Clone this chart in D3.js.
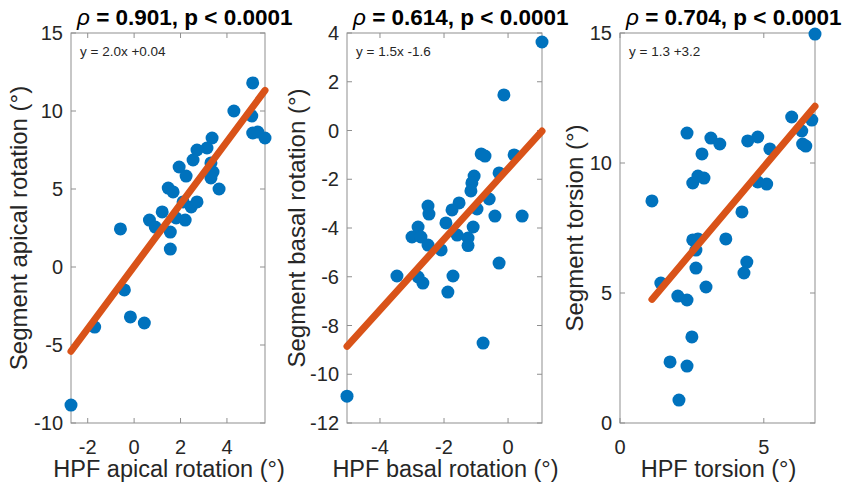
<!DOCTYPE html>
<html>
<head>
<meta charset="utf-8">
<script src="https://cdn.jsdelivr.net/npm/d3@7"></script>
<style>
  body { margin: 0; background: #fff; }
  svg { display: block; font-family: "Liberation Sans", Arial, sans-serif; }
</style>
</head>
<body>
<svg id="chart" width="851" height="486"></svg>
<script>
// values
const apicalX = [5.11, 4.30, 5.07, 5.11, 5.33, 5.64, 3.36, 3.14, 2.71, 2.54, 3.31, 3.40, 3.31, 1.94, 2.24, 3.66, 1.47, 1.68, 2.11, 2.46, 2.71, 1.21, 0.66, 0.91, 1.81, 2.20, 1.56, -0.59, 1.56, -0.42, -0.16, 0.44, -1.70, -2.72];
const apicalY = [11.8, 10.0, 9.68, 8.59, 8.65, 8.27, 8.27, 7.63, 7.5, 6.86, 6.67, 6.09, 5.71, 6.41, 5.83, 5.0, 5.06, 4.81, 4.17, 3.85, 4.17, 3.53, 3.01, 2.56, 3.14, 3.01, 2.24, 2.44, 1.15, -1.47, -3.2, -3.59, -3.85, -8.85];

const basalX = [1.06, -0.13, -0.84, -0.72, 0.19, -0.28, -1.06, -1.13, -1.16, -0.59, -1.53, -1.75, -0.97, -0.41, 0.44, -2.5, -2.47, -1.94, -1.09, -1.59, -2.81, -3.0, -2.72, -1.25, -2.5, -2.09, -1.25, -0.28, -3.47, -2.81, -2.66, -1.72, -1.88, -0.78, -5.03];
const basalY = [3.63, 1.46, -0.96, -1.05, -1.0, -1.74, -1.87, -2.15, -2.48, -2.81, -2.97, -3.26, -3.22, -3.51, -3.51, -3.1, -3.43, -3.79, -3.96, -4.29, -3.96, -4.37, -4.37, -4.41, -4.70, -4.9, -4.72, -5.44, -5.97, -6.01, -6.26, -5.97, -6.63, -8.72, -10.9];

const torsionX = [6.78, 5.97, 6.67, 6.32, 6.35, 6.46, 5.21, 4.79, 4.44, 3.16, 3.47, 2.33, 2.85, 2.53, 2.71, 2.92, 4.79, 5.10, 1.11, 4.24, 2.53, 2.71, 3.68, 2.64, 4.41, 4.31, 2.64, 1.42, 2.99, 2.01, 2.33, 2.5, 1.74, 2.33, 2.05];
const torsionY = [14.96, 11.77, 11.65, 11.23, 10.73, 10.65, 10.54, 11.0, 10.85, 10.96, 10.73, 11.15, 10.35, 9.23, 9.5, 9.42, 9.27, 9.19, 8.54, 8.12, 7.04, 7.08, 7.08, 6.65, 6.19, 5.77, 5.96, 5.38, 5.23, 4.88, 4.73, 3.31, 2.35, 2.19, 0.88];

// regression lines (slope, intercept)
const fits = [[2.0, 0.04], [1.45, -1.56], [1.31, 3.3]];
const equations = ["y = 2.0x +0.04", "y = 1.5x -1.6", "y = 1.3 +3.2"];
const rhos = ["0.901", "0.614", "0.704"];
const pText = "p < 0.0001";

const xDomains = [[-2.72, 5.64], [-5.03, 1.06], [0, 6.78]];
const yDomains = [[-10, 15], [-12, 4], [0, 15]];
const xTicks = [[-2, 0, 2, 4], [-4, -2, 0], [0, 5]];
const yTicks = [[-10, -5, 0, 5, 10, 15], [-12, -10, -8, -6, -4, -2, 0, 2, 4], [0, 5, 10, 15]];

const xLabels = ["HPF apical rotation (°)", "HPF basal rotation (°)", "HPF torsion (°)"];
const yLabels = ["Segment apical rotation (°)", "Segment basal rotation (°)", "Segment torsion (°)"];

const seriesX = [apicalX, basalX, torsionX];
const seriesY = [apicalY, basalY, torsionY];

// layout of the three axes boxes
const boxes = [
  { left: 71, right: 265, ylabOff: 44 },
  { left: 347, right: 542, ylabOff: 42 },
  { left: 620, right: 815, ylabOff: 37 }
];
const plotTop = 33, plotBottom = 423;

const BLUE = '#0072BD', ORANGE = '#D95319', TXT = '#262626', AXC = '#8f8f8f';

const svg = d3.select('#chart');
svg.append('rect').attr('width', 851).attr('height', 486).attr('fill', '#fff');

boxes.forEach((b, i) => {
  const x = d3.scaleLinear().domain(xDomains[i]).range([b.left, b.right]);
  const y = d3.scaleLinear().domain(yDomains[i]).range([plotBottom, plotTop]);
  const g = svg.append('g');

  // axes box
  g.append('rect')
    .attr('x', b.left).attr('y', plotTop)
    .attr('width', b.right - b.left).attr('height', plotBottom - plotTop)
    .attr('fill', 'none').attr('stroke', AXC).attr('stroke-width', 1);

  // inward ticks on all four sides
  const tl = 5;
  xTicks[i].forEach(t => {
    g.append('line').attr('x1', x(t)).attr('x2', x(t)).attr('y1', plotBottom).attr('y2', plotBottom - tl).attr('stroke', AXC);
    g.append('line').attr('x1', x(t)).attr('x2', x(t)).attr('y1', plotTop).attr('y2', plotTop + tl).attr('stroke', AXC);
  });
  yTicks[i].forEach(t => {
    g.append('line').attr('x1', b.left).attr('x2', b.left + tl).attr('y1', y(t)).attr('y2', y(t)).attr('stroke', AXC);
    g.append('line').attr('x1', b.right).attr('x2', b.right - tl).attr('y1', y(t)).attr('y2', y(t)).attr('stroke', AXC);
  });

  g.selectAll('.xt').data(xTicks[i]).enter().append('text')
    .attr('x', d => x(d)).attr('y', 454)
    .attr('text-anchor', 'middle')
    .style('font-size', '20px').attr('fill', TXT)
    .text(d => String(d));

  g.selectAll('.yt').data(yTicks[i]).enter().append('text')
    .attr('x', b.left - 8).attr('y', d => y(d))
    .attr('dy', '0.36em')
    .attr('text-anchor', 'end')
    .style('font-size', '20px').attr('fill', TXT)
    .text(d => String(d));

  // points
  const pts = seriesX[i].map((v, k) => ({ x: v, y: seriesY[i][k] }));
  g.selectAll('circle').data(pts).enter().append('circle')
    .attr('cx', d => x(d.x)).attr('cy', d => y(d.y))
    .attr('r', 6.5).attr('fill', BLUE);

  // fit line across the data range
  const [m, c] = fits[i];
  const ext = d3.extent(seriesX[i]);
  g.append('line')
    .attr('x1', x(ext[0])).attr('y1', y(m * ext[0] + c))
    .attr('x2', x(ext[1])).attr('y2', y(m * ext[1] + c))
    .attr('stroke', ORANGE).attr('stroke-width', 7).attr('stroke-linecap', 'round');

  // equation
  g.append('text')
    .attr('x', b.left + 9).attr('y', 56)
    .style('font-size', '13.5px').attr('fill', TXT)
    .text(equations[i]);

  // title
  const title = g.append('text')
    .attr('x', b.left + 6).attr('y', 25)
    .style('font-size', '22.5px').style('font-weight', 'bold').attr('fill', '#000');
  title.append('tspan').style('font-style', 'italic').style('font-weight', 'normal').text('ρ');
  title.append('tspan').text(` = ${rhos[i]}, ${pText}`);

  // axis labels
  g.append('text')
    .attr('x', (b.left + b.right) / 2 + 1).attr('y', 477)
    .attr('text-anchor', 'middle')
    .style('font-size', '23.5px').attr('fill', TXT)
    .text(xLabels[i]);

  g.append('text')
    .attr('transform', `translate(${b.left - b.ylabOff},${(plotTop + plotBottom) / 2}) rotate(-90)`)
    .attr('text-anchor', 'middle')
    .style('font-size', '24px').attr('fill', TXT)
    .text(yLabels[i]);
});
</script>
</body>
</html>
